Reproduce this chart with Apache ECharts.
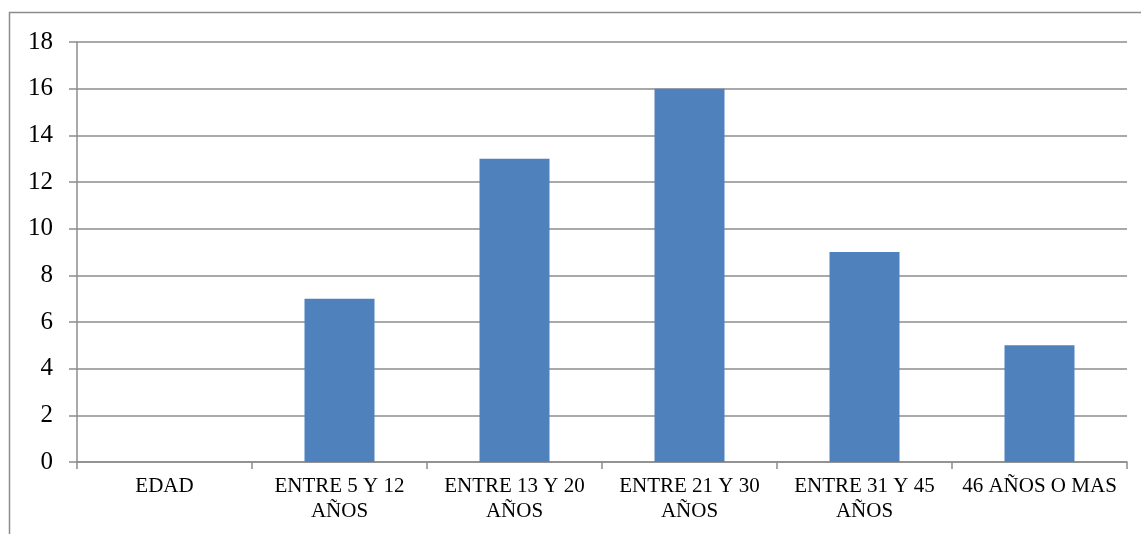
<!DOCTYPE html>
<html>
<head>
<meta charset="utf-8">
<script src="https://cdn.jsdelivr.net/npm/echarts@6/dist/echarts.min.js"></script>
<style>
  html, body { margin: 0; padding: 0; background: #fff; }
  #chart { width: 1141px; height: 534px; }
</style>
</head>
<body>
<div id="chart"></div>
<script>
// Age groups and their counts
const categories = ['EDAD', 'ENTRE 5 Y 12\nAÑOS', 'ENTRE 13 Y 20\nAÑOS', 'ENTRE 21 Y 30\nAÑOS', 'ENTRE 31 Y 45\nAÑOS', '46 AÑOS O MAS'];
const counts = [0, 7, 13, 16, 9, 5];
const yTicks = { min: 0, max: 18, interval: 2 };

const serif = '"Liberation Serif", "Times New Roman", serif';
const lineGray = '#8c8c8c';

const chart = echarts.init(document.getElementById('chart'), null, { renderer: 'canvas' });
chart.setOption({
  animation: false,
  backgroundColor: '#fff',
  graphic: [{
    type: 'rect',
    silent: true,
    shape: { x: 9.5, y: 12.5, width: 1160, height: 560 },
    style: { fill: 'none', stroke: lineGray, lineWidth: 1.5 }
  }],
  grid: { left: 77, right: 14, top: 42, bottom: 72, containLabel: false },
  xAxis: {
    type: 'category',
    data: categories,
    axisLine: { show: true, lineStyle: { color: lineGray, width: 1.5 } },
    axisTick: { show: true, length: 7, alignWithLabel: false, lineStyle: { color: lineGray, width: 1.5 } },
    axisLabel: {
      interval: 0,
      margin: 12,
      color: '#000',
      fontFamily: serif,
      fontSize: 21,
      lineHeight: 25
    }
  },
  yAxis: {
    type: 'value',
    min: yTicks.min,
    max: yTicks.max,
    interval: yTicks.interval,
    axisLine: { show: true, lineStyle: { color: lineGray, width: 1.5 } },
    axisTick: { show: true, length: 8, lineStyle: { color: lineGray, width: 1.5 } },
    splitLine: { show: true, lineStyle: { color: lineGray, width: 1.5 } },
    axisLabel: {
      margin: 24,
      color: '#000',
      fontFamily: serif,
      fontSize: 25
    }
  },
  series: [{
    type: 'bar',
    data: counts,
    barWidth: '40%',
    itemStyle: { color: '#4F81BD' }
  }]
});
</script>
</body>
</html>
